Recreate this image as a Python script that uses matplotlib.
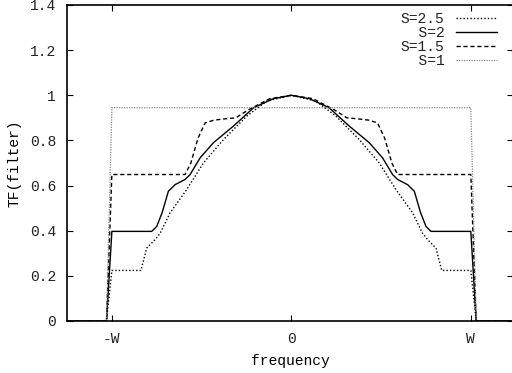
import numpy as np
import matplotlib
matplotlib.use("Agg")
import matplotlib.pyplot as plt

plt.rcParams['font.family'] = ['Liberation Mono', 'DejaVu Sans Mono']
plt.rcParams['text.color'] = '#222222'
plt.rcParams['xtick.labelcolor'] = '#222222'
plt.rcParams['ytick.labelcolor'] = '#222222'

# half-curves (positive frequency side, in units of W);
# the filter is symmetric so the left side is the mirror image
labels = ["S=2.5", "S=2", "S=1.5", "S=1"]

x_s25 = [0, 0.136, 0.248, 0.378, 0.49, 0.583, 0.676, 0.73, 0.76, 0.806, 0.838, 1.0, 1.03, 1.25]
y_s25 = [1.0, 0.975, 0.908, 0.804, 0.70, 0.582, 0.479, 0.39, 0.36, 0.323, 0.224, 0.224, 0, 0]

x_s2 = [0, 0.1, 0.21, 0.322, 0.434, 0.508, 0.564, 0.592, 0.648, 0.685, 0.72, 0.75, 0.778, 1.0, 1.03, 1.25]
y_s2 = [1.0, 0.985, 0.945, 0.864, 0.79, 0.723, 0.649, 0.627, 0.604, 0.575, 0.48, 0.419, 0.397, 0.397, 0, 0]

x_s15 = [0, 0.12, 0.236, 0.31, 0.366, 0.43, 0.48, 0.52, 0.56, 0.592, 1.0, 1.03, 1.25]
y_s15 = [1.0, 0.985, 0.937, 0.90, 0.896, 0.89, 0.878, 0.81, 0.70, 0.649, 0.649, 0, 0]

x_s1 = [0, 1.0, 1.03, 1.25]
y_s1 = [0.945, 0.945, 0, 0]


def mirror(x, y):
    x = np.asarray(x, float)
    y = np.asarray(y, float)
    return np.concatenate([-x[::-1], x[1:]]), np.concatenate([y[::-1], y[1:]])


fig = plt.figure(figsize=(5.12, 3.73), dpi=100)
ax = fig.add_axes([67 / 512, 52 / 373, 446 / 512, 316 / 373])

styles = [
    dict(color='black', lw=1.0, linestyle=(0, (1, 1.5))),
    dict(color='black', lw=1.0, linestyle='-'),
    dict(color='black', lw=1.0, linestyle=(0, (3, 2))),
    dict(color='#888888', lw=0.9, linestyle=(0, (1, 1))),
]
for lab, (xh, yh), st in zip(labels, [(x_s25, y_s25), (x_s2, y_s2), (x_s15, y_s15), (x_s1, y_s1)], styles):
    xx, yy = mirror(xh, yh)
    ax.plot(xx, yy, label=lab.rjust(5), **st)

ax.set_xlim(-1.25, 1.235)
ax.set_ylim(0, 1.4)
ax.set_xticks([-1, 0, 1])
ax.set_xticklabels(['-W', '0', 'W'])
ax.set_yticks([0, 0.2, 0.4, 0.6, 0.8, 1.0, 1.2, 1.4])
ax.set_yticklabels(['0', '0.2', '0.4', '0.6', '0.8', '1', '1.2', '1.4'])
ax.tick_params(direction='in', length=4, width=0.8, top=True, right=True, labelsize=10.5, pad=8)
for sp in ax.spines.values():
    sp.set_linewidth(1.2)

ax.set_xlabel('frequency', fontsize=10.5, labelpad=6)
ax.set_ylabel('TF(filter)', fontsize=10.5, labelpad=6)

ax.legend(loc='upper right', bbox_to_anchor=(0.964, 0.978), frameon=False, markerfirst=False,
          fontsize=10.5, handlelength=2.8, labelspacing=0.0, borderaxespad=0.0, borderpad=0.0,
          handletextpad=0.8)

fig.savefig('out.png', dpi=100)
